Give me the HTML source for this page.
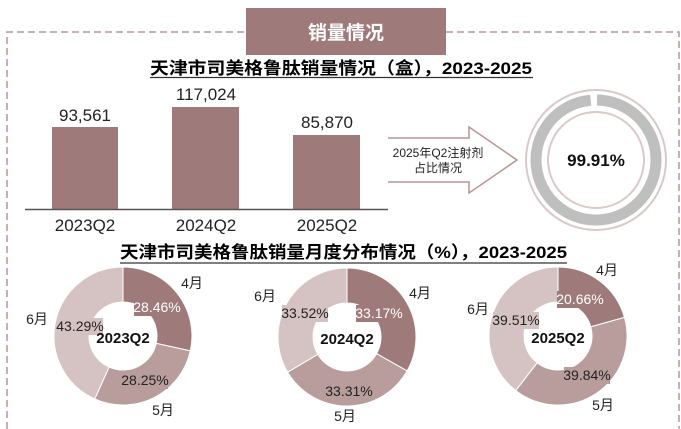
<!DOCTYPE html>
<html><head><meta charset="utf-8"><style>
html,body{margin:0;padding:0;background:#fff;}
svg{display:block;font-family:"Liberation Sans Narrow","Liberation Sans","Noto Sans CJK SC",sans-serif;}
</style></head><body>
<svg id="s" width="681" height="429" viewBox="0 0 681 429" xmlns="http://www.w3.org/2000/svg">
<path d="M7,440 V32 H246 M446,32 H679 V440" fill="none" stroke="#b89593" stroke-width="1.5" stroke-dasharray="7,4"/>
<rect x="246" y="8" width="200" height="47" fill="#9e7b7a"/>
<text x="346" y="39" font-size="19" font-weight="bold" fill="#fff" text-anchor="middle" font-family="Liberation Sans,Noto Sans CJK SC,sans-serif">销量情况</text>
<text x="150" y="74" font-size="17" font-weight="bold" textLength="382" lengthAdjust="spacingAndGlyphs" font-family="Liberation Sans,Noto Sans CJK SC,sans-serif">天津市司美格鲁肽销量情况（盒），2023-2025</text>
<line x1="150" y1="77.5" x2="533" y2="77.5" stroke="#333" stroke-width="1.2"/>
<g fill="#9e7b7a">
<rect x="52" y="127" width="66" height="82"/>
<rect x="172" y="107" width="67" height="102"/>
<rect x="293" y="135" width="67" height="74"/>
</g>
<line x1="25" y1="209.5" x2="388" y2="209.5" stroke="#555" stroke-width="1.5"/>
<g font-size="17" text-anchor="middle" fill="#222">
<text x="85" y="121">93,561</text>
<text x="206" y="100">117,024</text>
<text x="327" y="128">85,870</text>
<text x="85" y="231">2023Q2</text>
<text x="206" y="231">2024Q2</text>
<text x="327" y="231">2025Q2</text>
</g>
<path d="M388,138 H469 V127 L517,160 L469,193 V182 H388" fill="#fff" stroke="#b89593" stroke-width="1.5"/>
<text x="438" y="157" font-size="12" text-anchor="middle" fill="#222">2025年Q2注射剂</text>
<text x="438" y="172" font-size="12" text-anchor="middle" fill="#222">占比情况</text>
<circle cx="596" cy="160" r="70" fill="none" stroke="#d9c9c8" stroke-width="2"/>
<circle cx="596" cy="160" r="48" fill="none" stroke="#d9c9c8" stroke-width="2"/>
<g id="gauge"></g>
<text x="596" y="166" font-size="17" font-weight="bold" text-anchor="middle" fill="#111">99.91%</text>
<text x="120" y="258" font-size="17" font-weight="bold" textLength="447" lengthAdjust="spacingAndGlyphs" font-family="Liberation Sans,Noto Sans CJK SC,sans-serif">天津市司美格鲁肽销量月度分布情况（%），2023-2025</text>
<line x1="120" y1="263" x2="567" y2="263" stroke="#333" stroke-width="1.2"/>
<g id="donuts"></g>
</svg>
<script>
var NS="http://www.w3.org/2000/svg";
function arc(cx,cy,r0,r1,a0,a1,fill,parent){
 function p(r,a){var t=(a-90)*Math.PI/180;return [cx+r*Math.cos(t),cy+r*Math.sin(t)];}
 var l=(a1-a0)>180?1:0;var A=p(r1,a0),B=p(r1,a1),C=p(r0,a1),D=p(r0,a0);
 var d="M"+A+" A"+r1+","+r1+" 0 "+l+" 1 "+B+" L"+C+" A"+r0+","+r0+" 0 "+l+" 0 "+D+"Z";
 var e=document.createElementNS(NS,"path");e.setAttribute("d",d);e.setAttribute("fill",fill);
 e.setAttribute("stroke","#fff");e.setAttribute("stroke-width","1");parent.appendChild(e);}
function txt(x,y,s,o,parent){var e=document.createElementNS(NS,"text");e.setAttribute("x",x);e.setAttribute("y",y);
 e.setAttribute("text-anchor","middle");e.setAttribute("font-size",o.size||13);e.setAttribute("fill",o.fill||"#222");
 if(o.bold)e.setAttribute("font-weight","bold");e.textContent=s;parent.appendChild(e);}
function rect(x,y,w,h,f,parent){var e=document.createElementNS(NS,"rect");e.setAttribute("x",x);e.setAttribute("y",y);e.setAttribute("width",w);e.setAttribute("height",h);e.setAttribute("fill",f);parent.appendChild(e);}
var g=document.getElementById("gauge");
var ge=document.createElementNS(NS,"path");
(function(){var cx=596,cy=160,r=60;function p(a){var t=(a-90)*Math.PI/180;return [cx+r*Math.cos(t),cy+r*Math.sin(t)];}
var A=p(1),B=p(355);ge.setAttribute("d","M"+A+" A60,60 0 1 1 "+B);ge.setAttribute("fill","none");ge.setAttribute("stroke","#bfbfbf");ge.setAttribute("stroke-width","11");g.appendChild(ge);})();
var cols=["#9e7b7a","#b89d9c","#d4c3c2"];
var D=[
 {cx:123,cy:336,v:[28.46,28.25,43.29],name:"2023Q2",m:[[192,288],[163,415],[37,324]],p:[[157,312],[145,385],[80,331]]},
 {cx:347,cy:337,v:[33.17,33.31,33.52],name:"2024Q2",m:[[420,298],[345,421],[265,301]],p:[[379,318],[349,396],[305,318]]},
 {cx:558,cy:336,v:[20.66,39.84,39.51],name:"2025Q2",m:[[607,275],[603,410],[478,314]],p:[[580,304],[587,380],[516,325]]}];
var dg=document.getElementById("donuts");
D.forEach(function(d){var a=0;d.v.forEach(function(v,i){var b=a+v*3.6;arc(d.cx,d.cy,34,69,a,b,cols[i],dg);a=b;});
 var nm=["4月","5月","6月"];
 d.m.forEach(function(m,i){txt(m[0],m[1],nm[i],{size:14},dg);});
 d.p.forEach(function(p,i){rect(p[0]-23,p[1]-13,46,17,cols[i],dg);txt(p[0],p[1],d.v[i].toFixed(2)+"%",{size:14,fill:i==0?"#fff":"#222"},dg);});
 txt(d.cx,d.cy+7,d.name,{size:15,bold:true,fill:"#111"},dg);});
</script>
</body></html>
